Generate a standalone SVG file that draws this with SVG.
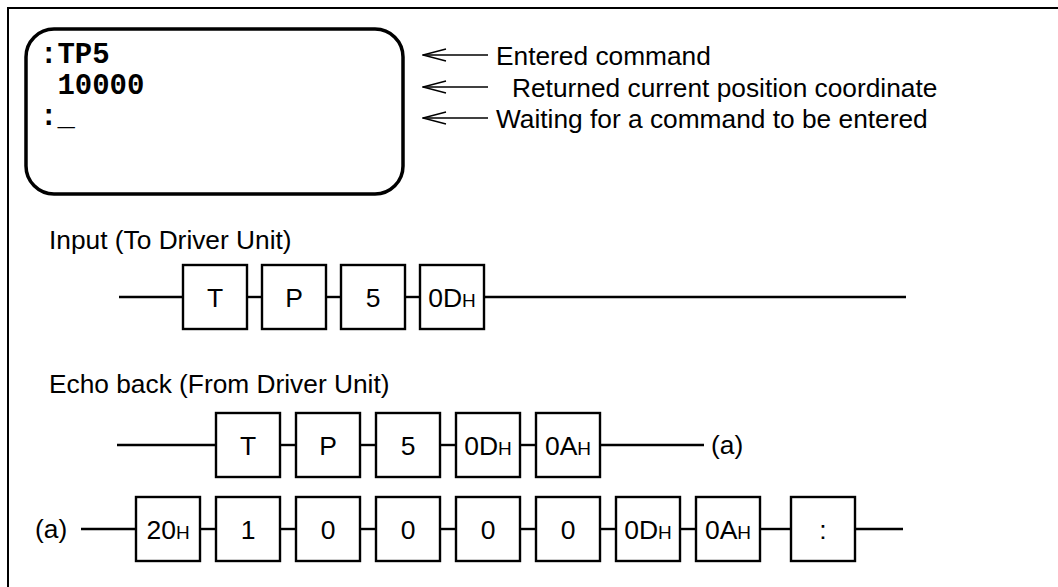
<svg xmlns="http://www.w3.org/2000/svg" width="1058" height="587" viewBox="0 0 1058 587">
<style>
.frame{fill:none;stroke:#000;stroke-width:2}
.screen{fill:#fff;stroke:#000;stroke-width:3.5}
.mono{font-family:"Liberation Mono","Courier New",monospace;font-weight:bold;font-size:29px;fill:#000}
.lbl{font-family:"Liberation Sans",Arial,sans-serif;font-size:26.3px;fill:#000}
.box rect{fill:#fff;stroke:#000;stroke-width:2.4}
.box text{font-family:"Liberation Sans",Arial,sans-serif;font-size:26.5px;fill:#000;text-anchor:middle}
.sm{font-size:19px}
.wire{stroke:#000;stroke-width:2.4;fill:none}
.ptr{stroke:#000;stroke-width:1.3;fill:none;marker-start:url(#open)}
</style>
<defs>
<marker id="open" markerUnits="userSpaceOnUse" viewBox="-1 -8 26 16" markerWidth="26" markerHeight="16" refX="0" refY="0" orient="auto">
<path d="M23,-6 L0,0 L23,6" fill="none" stroke="#000" stroke-width="1.3"/>
</marker>
</defs>
<rect width="1058" height="587" fill="#fff"/>
<rect class="frame" x="8" y="8" width="1100" height="700"/>

<g id="screen">
<rect class="screen" x="26" y="29" width="377" height="165" rx="28" ry="28"/>
<text class="mono" x="40" y="63">:TP5</text>
<text class="mono" x="40" y="94" xml:space="preserve"> 10000</text>
<text class="mono" x="40" y="125">:_</text>
</g>

<g id="annotations">
<line class="ptr" x1="423" y1="55" x2="488" y2="55"/>
<line class="ptr" x1="423" y1="87" x2="488" y2="87"/>
<line class="ptr" x1="423" y1="118" x2="488" y2="118"/>
<text class="lbl" x="496" y="65">Entered command</text>
<text class="lbl" x="512" y="97">Returned current position coordinate</text>
<text class="lbl" x="496" y="128">Waiting for a command to be entered</text>
</g>

<text class="lbl" x="49" y="249">Input (To Driver Unit)</text>
<text class="lbl" x="49" y="393">Echo back (From Driver Unit)</text>
<text class="lbl" x="711" y="454">(a)</text>
<text class="lbl" x="35" y="538">(a)</text>

<g id="connectors">
<line class="wire" x1="119" y1="297" x2="183" y2="297"/>
<line class="wire" x1="247" y1="297" x2="262" y2="297"/>
<line class="wire" x1="326" y1="297" x2="341" y2="297"/>
<line class="wire" x1="405" y1="297" x2="420" y2="297"/>
<line class="wire" x1="484" y1="297" x2="906" y2="297"/>

<line class="wire" x1="117" y1="445" x2="216" y2="445"/>
<line class="wire" x1="280" y1="445" x2="296" y2="445"/>
<line class="wire" x1="360" y1="445" x2="376" y2="445"/>
<line class="wire" x1="440" y1="445" x2="456" y2="445"/>
<line class="wire" x1="520" y1="445" x2="536" y2="445"/>
<line class="wire" x1="600" y1="445" x2="704" y2="445"/>

<line class="wire" x1="81" y1="529" x2="136" y2="529"/>
<line class="wire" x1="200" y1="529" x2="216" y2="529"/>
<line class="wire" x1="280" y1="529" x2="296" y2="529"/>
<line class="wire" x1="360" y1="529" x2="376" y2="529"/>
<line class="wire" x1="440" y1="529" x2="456" y2="529"/>
<line class="wire" x1="520" y1="529" x2="536" y2="529"/>
<line class="wire" x1="600" y1="529" x2="616" y2="529"/>
<line class="wire" x1="680" y1="529" x2="696" y2="529"/>
<line class="wire" x1="760" y1="529" x2="791" y2="529"/>
<line class="wire" x1="855" y1="529" x2="903" y2="529"/>
</g>

<g id="in-T" class="box"><rect x="183" y="265" width="64" height="64"/><text x="215" y="307">T</text></g>
<g id="in-P" class="box"><rect x="262" y="265" width="64" height="64"/><text x="294" y="307">P</text></g>
<g id="in-5" class="box"><rect x="341" y="265" width="64" height="64"/><text x="373" y="307">5</text></g>
<g id="in-0D" class="box"><rect x="420" y="265" width="64" height="64"/><text x="452" y="307">0D<tspan class="sm">H</tspan></text></g>

<g id="e1-T" class="box"><rect x="216" y="413" width="64" height="64"/><text x="248" y="455">T</text></g>
<g id="e1-P" class="box"><rect x="296" y="413" width="64" height="64"/><text x="328" y="455">P</text></g>
<g id="e1-5" class="box"><rect x="376" y="413" width="64" height="64"/><text x="408" y="455">5</text></g>
<g id="e1-0D" class="box"><rect x="456" y="413" width="64" height="64"/><text x="488" y="455">0D<tspan class="sm">H</tspan></text></g>
<g id="e1-0A" class="box"><rect x="536" y="413" width="64" height="64"/><text x="568" y="455">0A<tspan class="sm">H</tspan></text></g>

<g id="e2-20" class="box"><rect x="136" y="497" width="64" height="64"/><text x="168" y="539">20<tspan class="sm">H</tspan></text></g>
<g id="e2-1" class="box"><rect x="216" y="497" width="64" height="64"/><text x="248" y="539">1</text></g>
<g id="e2-0a" class="box"><rect x="296" y="497" width="64" height="64"/><text x="328" y="539">0</text></g>
<g id="e2-0b" class="box"><rect x="376" y="497" width="64" height="64"/><text x="408" y="539">0</text></g>
<g id="e2-0c" class="box"><rect x="456" y="497" width="64" height="64"/><text x="488" y="539">0</text></g>
<g id="e2-0d" class="box"><rect x="536" y="497" width="64" height="64"/><text x="568" y="539">0</text></g>
<g id="e2-0D" class="box"><rect x="616" y="497" width="64" height="64"/><text x="648" y="539">0D<tspan class="sm">H</tspan></text></g>
<g id="e2-0A" class="box"><rect x="696" y="497" width="64" height="64"/><text x="728" y="539">0A<tspan class="sm">H</tspan></text></g>
<g id="e2-colon" class="box"><rect x="791" y="497" width="64" height="64"/><text x="823" y="539">:</text></g>
</svg>
